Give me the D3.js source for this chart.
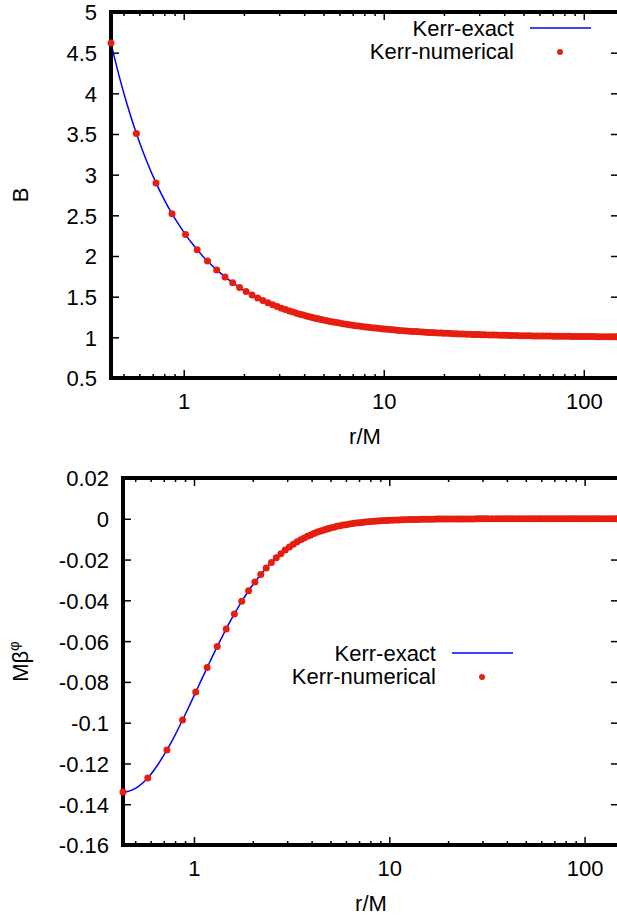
<!DOCTYPE html>
<html>
<head>
<meta charset="utf-8">
<script src="https://cdn.jsdelivr.net/npm/d3@7"></script>
<style>
  html, body { margin: 0; padding: 0; background: #fff; }
  svg { display: block; font-family: "Liberation Sans", Arial, Helvetica, sans-serif; }
</style>
</head>
<body>
<svg id="chart" width="617" height="919"></svg>
<script>
/* Kerr-exact curve */
const rExact = [0.433, 0.45, 0.48, 0.52, 0.58, 0.65, 0.727, 0.8, 0.874, 0.95, 1.021, 1.1, 1.168, 1.25, 1.315,
  1.462, 1.609, 1.756, 1.903, 2.05, 2.197, 2.344, 2.491, 2.785, 3.079, 3.52, 3.961, 4.549, 5.2, 6,
  7, 8.1, 10, 12.5, 15, 20, 25, 30, 41, 50, 60, 75, 100, 125, 150];
const bExact = [4.619, 4.4457, 4.1753, 3.8713, 3.506, 3.1774, 2.899, 2.691, 2.52, 2.3758, 2.263, 2.1561, 2.077, 1.9949, 1.938,
  1.829, 1.743, 1.672, 1.613, 1.564, 1.522, 1.485, 1.4535, 1.4008, 1.359, 1.3103, 1.2732, 1.2355, 1.2039, 1.1753,
  1.1492, 1.1282, 1.1031, 1.082, 1.0681, 1.0508, 1.0405, 1.0337, 1.0246, 1.0201, 1.0168, 1.0134, 1.01, 1.008, 1.0067];
const betaExact = [-0.134, -0.13385, -0.1331, -0.1312, -0.1271, -0.1209, -0.1134, -0.1061, -0.0987, -0.0914, -0.085, -0.0783, -0.073, -0.067, -0.0627,
  -0.054, -0.0467, -0.0405, -0.0353, -0.031, -0.0273, -0.0241, -0.0214, -0.0171, -0.0138, -0.0103, -0.0079, -0.0057, -0.0041, -0.0029,
  -0.0019, -0.0013, -0.00075, -0.0004, -0.00024, -0.00011, -0.00006, -0.00003, -0.00001, 0, 0, 0, 0, 0, 0];

/* Kerr-numerical points */
const rNum = [0.433, 0.58, 0.727, 0.874, 1.021, 1.168, 1.315, 1.462, 1.609, 1.756, 1.903, 2.05, 2.197, 2.344, 2.491, 2.638,
  2.785, 2.932, 3.079, 3.226, 3.373, 3.52, 3.667, 3.814, 3.961, 4.108, 4.255, 4.402, 4.549, 4.696, 4.843, 4.99,
  5.2, 5.4, 5.6, 5.8, 6.0, 6.25, 6.5, 6.75, 7.0, 7.25, 7.5, 7.8, 8.1, 8.4, 8.7, 9.0, 9.35, 9.7, 10, 10.4,
  10.8, 11.2, 11.6, 12, 12.5, 13, 13.5, 14, 14.5, 15, 15.6, 16.2, 16.8, 17.4, 18, 18.7, 19.4, 20, 20.8, 21.6,
  22.4, 23.2, 24, 25, 26, 27, 28, 29, 30, 31, 32, 33.5, 35, 36.5, 38, 39.5, 41, 42.5, 44, 46, 48, 50,
  52, 54, 56, 58, 60, 62.5, 65, 67.5, 70, 72.5, 75, 78, 81, 84, 87, 90, 93.5, 97, 100, 104, 108, 112,
  116, 120, 125, 130, 135, 140, 145, 150];
const bNum = [4.619, 3.506, 2.899, 2.52, 2.263, 2.077, 1.938, 1.829, 1.743, 1.672, 1.613, 1.564, 1.522, 1.485, 1.4535, 1.4255,
  1.4008, 1.3788, 1.359, 1.3412, 1.3251, 1.3103, 1.2969, 1.2846, 1.2732, 1.2627, 1.253, 1.244, 1.2355, 1.2277, 1.2203, 1.2135,
  1.2039, 1.1959, 1.1885, 1.1817, 1.1753, 1.168, 1.1612, 1.155, 1.1492, 1.1439, 1.1389, 1.1333, 1.1282, 1.1235, 1.1191, 1.115, 1.1105, 1.1064, 1.1031, 1.099,
  1.0953, 1.0918, 1.0885, 1.0855, 1.082, 1.0788, 1.0758, 1.073, 1.0705, 1.0681, 1.0654, 1.0629, 1.0606, 1.0585, 1.0565, 1.0544, 1.0524, 1.0508, 1.0488, 1.047,
  1.0453, 1.0437, 1.0422, 1.0405, 1.0389, 1.0375, 1.0361, 1.0349, 1.0337, 1.0326, 1.0316, 1.0301, 1.0288, 1.0276, 1.0265, 1.0255, 1.0246, 1.0237, 1.0229, 1.0219, 1.021, 1.0201,
  1.0193, 1.0186, 1.0179, 1.0173, 1.0168, 1.0161, 1.0155, 1.0149, 1.0144, 1.0139, 1.0134, 1.0129, 1.0124, 1.0119, 1.0115, 1.0111, 1.0107, 1.0103, 1.01, 1.0096, 1.0093, 1.0089,
  1.0086, 1.0084, 1.008, 1.0077, 1.0074, 1.0072, 1.0069, 1.0067];
const betaNum = [-0.134, -0.1271, -0.1134, -0.0987, -0.085, -0.073, -0.0627, -0.054, -0.0467, -0.0405, -0.0353, -0.031, -0.0273, -0.0241, -0.0214, -0.0191,
  -0.0171, -0.0153, -0.0138, -0.0125, -0.0113, -0.0103, -0.0094, -0.0086, -0.0079, -0.0072, -0.0066, -0.0061, -0.0057, -0.0052, -0.0049, -0.0045,
  -0.0041, -0.0037, -0.0034, -0.0031, -0.0029, -0.0026, -0.0023, -0.0021, -0.0019, -0.0018, -0.0016, -0.0015, -0.0013, -0.0012, -0.0011, -0.001, -0.0009, -0.0008, -0.00075, -0.00067,
  -0.00061, -0.00055, -0.0005, -0.00045, -0.0004, -0.00036, -0.00033, -0.0003, -0.00027, -0.00024, -0.00022, -0.0002, -0.00018, -0.00016, -0.00015, -0.00013, -0.00012, -0.00011, -0.0001, -0.00009,
  -0.00008, -0.00007, -0.00006, -0.00006, -0.00005, -0.00005, -0.00004, -0.00004, -0.00003, -0.00003, -0.00003, -0.00002, -0.00002, -0.00002, -0.00002, -0.00002, -0.00002, -0.00002, -0.00001, -0.00001, -0.00001, -0.00001,
  -0.00001, -0.00001, -0.00001, -0.00001, -0.00001, 0, 0, 0, 0, 0, 0, 0, 0, 0, 0, 0, 0, 0, 0, 0, 0, 0,
  0, 0, 0, 0, 0, 0, 0, 0];

/* axes */
const xDomain = [0.433, 150];
const xMajor = [1, 10, 100];
const xMinor = [0.5, 0.6, 0.7, 0.8, 0.9, 2, 3, 4, 5, 6, 7, 8, 9, 20, 30, 40, 50, 60, 70, 80, 90];
const yTicksB = [0.5, 1, 1.5, 2, 2.5, 3, 3.5, 4, 4.5, 5];
const yTicksBeta = [-0.16, -0.14, -0.12, -0.1, -0.08, -0.06, -0.04, -0.02, 0, 0.02];

const RED = '#e51e10';
const BLUE = '#0000ff';
const FONT = 22;
const FONT_FAMILY = '"Liberation Sans", Arial, Helvetica, sans-serif';
const MAJOR = 8;
const MINOR = 4;
const DOT = 3.5;

const svg = d3.select('#chart');

function styleAxis(g) {
  g.attr('font-size', FONT).attr('font-family', FONT_FAMILY);
  g.select('.domain').remove();
  g.selectAll('.tick line').attr('stroke', '#000').attr('stroke-width', 1.5);
  g.selectAll('.tick text').attr('fill', '#000');
}

function drawPanel(p) {
  const x = d3.scaleLog().domain(xDomain).range([p.left, p.right]);
  const y = d3.scaleLinear().domain(p.yDomain).range([p.bottom, p.top]);
  const fmt = (d) => String(d);

  /* bottom axis */
  svg.append('g')
    .attr('transform', `translate(0, ${p.bottom})`)
    .call(d3.axisBottom(x).tickValues(xMinor).tickSizeInner(-MINOR).tickSizeOuter(0).tickFormat(''))
    .call(styleAxis);
  svg.append('g')
    .attr('transform', `translate(0, ${p.bottom})`)
    .call(d3.axisBottom(x).tickValues(xMajor).tickSizeInner(-MAJOR).tickSizeOuter(0).tickFormat(fmt))
    .call(styleAxis)
    .call((g) => g.selectAll('.tick text').attr('y', 31).attr('dy', null));

  /* top mirror ticks */
  svg.append('g')
    .attr('transform', `translate(0, ${p.top})`)
    .call(d3.axisTop(x).tickValues(xMinor).tickSizeInner(-MINOR).tickSizeOuter(0).tickFormat(''))
    .call(styleAxis);
  svg.append('g')
    .attr('transform', `translate(0, ${p.top})`)
    .call(d3.axisTop(x).tickValues(xMajor).tickSizeInner(-MAJOR).tickSizeOuter(0).tickFormat(''))
    .call(styleAxis);

  /* left axis */
  svg.append('g')
    .attr('transform', `translate(${p.left}, 0)`)
    .call(d3.axisLeft(y).tickValues(p.yTicks).tickSizeInner(-MAJOR).tickSizeOuter(0).tickPadding(14).tickFormat(fmt))
    .call(styleAxis)
    .call((g) => g.selectAll('.tick text').attr('dy', '0.36em'));

  /* right mirror ticks */
  svg.append('g')
    .attr('transform', `translate(${p.right}, 0)`)
    .call(d3.axisRight(y).tickValues(p.yTicks).tickSizeInner(-MAJOR).tickSizeOuter(0).tickFormat(''))
    .call(styleAxis);

  /* exact curve */
  const exact = rExact.map((r, i) => ({ r, v: p.exact[i] }));
  svg.append('path')
    .attr('fill', 'none')
    .attr('stroke', BLUE)
    .attr('stroke-width', 1.5)
    .attr('stroke-linejoin', 'round')
    .attr('d', d3.line()
      .x((d) => x(d.r))
      .y((d) => y(d.v))
      .curve(d3.curveMonotoneX)(exact));

  /* frame */
  svg.append('rect')
    .attr('x', p.left)
    .attr('y', p.top)
    .attr('width', p.right - p.left)
    .attr('height', p.bottom - p.top)
    .attr('fill', 'none')
    .attr('stroke', '#000')
    .attr('stroke-width', 4);

  /* numerical points */
  const num = rNum.map((r, i) => ({ r, v: p.num[i] }));
  svg.append('g')
    .selectAll('circle')
    .data(num)
    .enter()
    .append('circle')
    .attr('cx', (d) => x(d.r))
    .attr('cy', (d) => y(d.v))
    .attr('r', DOT)
    .attr('fill', RED);

  /* x title */
  svg.append('text')
    .attr('x', (p.left + p.right) / 2)
    .attr('y', p.bottom + 66)
    .attr('text-anchor', 'middle')
    .attr('font-size', FONT)
    .text('r/M');

  /* y title */
  const yt = svg.append('text')
    .attr('transform', `translate(28, ${(p.top + p.bottom) / 2}) rotate(-90)`)
    .attr('text-anchor', 'middle')
    .attr('font-size', FONT);
  p.yLabel(yt);

  /* legend */
  const lg = svg.append('g').attr('font-size', FONT);
  lg.append('text')
    .attr('x', p.legend.x)
    .attr('y', p.legend.y)
    .attr('text-anchor', 'end')
    .text('Kerr-exact');
  lg.append('line')
    .attr('x1', p.legend.x + 16)
    .attr('x2', p.legend.x + 77)
    .attr('y1', p.legend.y - 8)
    .attr('y2', p.legend.y - 8)
    .attr('stroke', BLUE)
    .attr('stroke-width', 1.5);
  lg.append('text')
    .attr('x', p.legend.x)
    .attr('y', p.legend.y + 23)
    .attr('text-anchor', 'end')
    .text('Kerr-numerical');
  lg.append('circle')
    .attr('cx', p.legend.x + 46)
    .attr('cy', p.legend.y + 16)
    .attr('r', 3)
    .attr('fill', RED);
}

drawPanel({
  left: 111, right: 619, top: 12, bottom: 378,
  yDomain: [0.5, 5],
  yTicks: yTicksB,
  exact: bExact,
  num: bNum,
  yLabel: (t) => t.text('B'),
  legend: { x: 514, y: 36 }
});

drawPanel({
  left: 123, right: 619, top: 478, bottom: 845,
  yDomain: [-0.16, 0.02],
  yTicks: yTicksBeta,
  exact: betaExact,
  num: betaNum,
  yLabel: (t) => {
    t.append('tspan').text('Mβ');
    t.append('tspan').attr('dy', -9).attr('font-size', 15).text('φ');
  },
  legend: { x: 436, y: 661 }
});
</script>
</body>
</html>
